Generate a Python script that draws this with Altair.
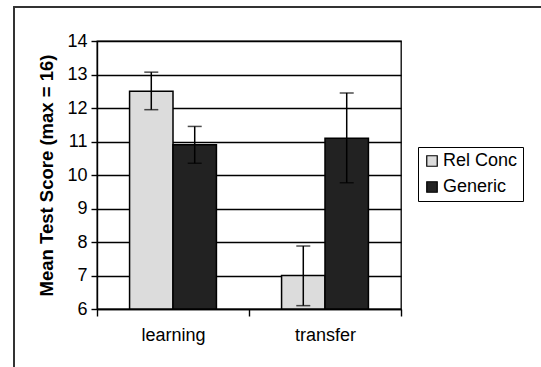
import altair as alt
import pandas as pd

categories = ["learning", "learning", "transfer", "transfer"]
groups = ["Rel Conc", "Generic", "Rel Conc", "Generic"]
means = [12.5, 10.9, 7.0, 11.1]
err_lo = [11.95, 10.35, 6.1, 9.77]
err_hi = [13.07, 11.45, 7.88, 12.45]
y_ticks = [6, 7, 8, 9, 10, 11, 12, 13, 14]
cat_order = ["learning", "transfer"]
group_order = ["Rel Conc", "Generic"]

df = pd.DataFrame({"cat": categories, "grp": groups, "mean": means, "lo": err_lo, "hi": err_hi})

FONT = "Liberation Sans"

x_axis = alt.Axis(labelAngle=0, tickBand="extent", grid=False, values=cat_order)
y_axis = alt.Axis(values=y_ticks, grid=True, labelOverlap=False)
x_scale = alt.Scale(domain=cat_order, paddingInner=0, paddingOuter=0)
xo_scale = alt.Scale(domain=group_order, paddingInner=0, paddingOuter=0.75)
y_scale = alt.Scale(domain=[6, 14], nice=False, zero=False)


def X():
    return alt.X("cat:N", title=None, sort=cat_order, scale=x_scale, axis=x_axis)


def XO():
    return alt.XOffset("grp:N", sort=group_order, scale=xo_scale)


def Y(field, title=None):
    return alt.Y(field, scale=y_scale, title=title, axis=y_axis)


TITLE = "Mean Test Score (max = 16)"

bars = alt.Chart(df).mark_bar(stroke="black", strokeWidth=1.5).encode(
    x=X(),
    xOffset=XO(),
    y=Y("mean:Q", TITLE),
    y2=alt.datum(6),
    color=alt.Color("grp:N", sort=group_order,
                    scale=alt.Scale(domain=group_order, range=["#dcdcdc", "#222222"]),
                    legend=alt.Legend(title=None, orient="none", legendX=321, legendY=106,
                                      symbolType="square", symbolSize=110,
                                      symbolStrokeColor="black", symbolStrokeWidth=1.2,
                                      labelFontSize=18, labelFont=FONT, labelColor="black",
                                      strokeColor="black", padding=5, rowPadding=8,
                                      labelOffset=2, fillColor="white")),
)

rules = alt.Chart(df).mark_rule(color="black", strokeWidth=1.5).encode(
    x=X(), xOffset=XO(), y=Y("lo:Q", TITLE), y2="hi:Q",
)
caps_hi = alt.Chart(df).mark_tick(color="black", thickness=1.5, size=14).encode(
    x=X(), xOffset=XO(), y=Y("hi:Q", TITLE),
)
caps_lo = alt.Chart(df).mark_tick(color="black", thickness=1.5, size=14).encode(
    x=X(), xOffset=XO(), y=Y("lo:Q", TITLE),
)

frame = alt.Chart(df).mark_rect(fill=None, stroke="#333333", strokeWidth=1.5).encode(
    x=alt.value(-83), x2=alt.value(460), y=alt.value(-34), y2=alt.value(340)
)

chart = alt.layer(bars, rules, caps_hi, caps_lo, frame).properties(
    width=304, height=268,
    autosize=alt.AutoSizeParams(type="none"),
    padding={"left": 97, "top": 41, "right": 140, "bottom": 58},
    background="white",
).configure_view(
    stroke="black", strokeWidth=1.3
).configure_axis(
    domainColor="black", tickColor="black", labelColor="black", gridColor="black",
    gridWidth=1.4, domainWidth=1.4, tickWidth=1.4, labelFontSize=18, labelFont=FONT,
    titleFont=FONT, titleFontSize=18.5, titleFontWeight="bold", titleColor="black",
).configure_axisX(
    tickSize=7, labelPadding=10,
).configure_axisY(
    tickSize=6, labelPadding=4, titlePadding=10,
)

chart.save("out.html", embed_options={"renderer": "svg", "actions": False})
